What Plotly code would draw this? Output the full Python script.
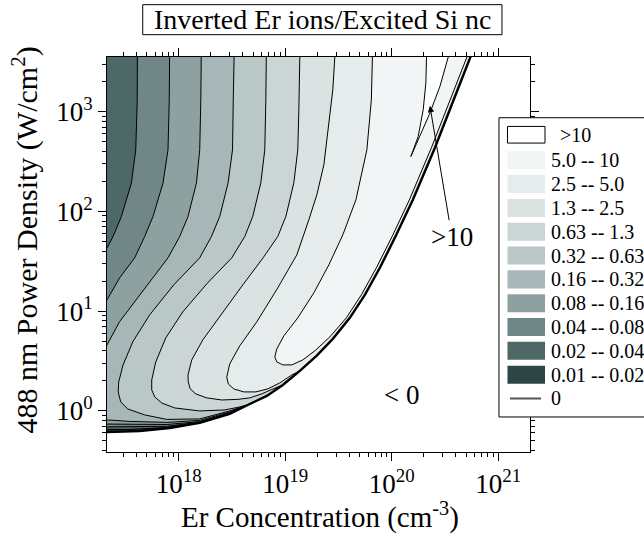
import numpy as np
import plotly.graph_objects as go

FONT = "Liberation Serif"

# ---------------- axis ranges (log10 units) ----------------
X_RANGE = [17.326, 21.299]   # Er concentration, cm^-3
Y_RANGE = [-0.414, 3.549]    # 488 nm power density, W/cm^2

x_tick_exp = [18, 19, 20, 21]
y_tick_exp = [0, 1, 2, 3]

# ---------------- contour lines (log10 x, log10 y) ----------------
# zero line (lower-right boundary, ratio = 0)
zero_lx = [17.258, 17.326, 17.633, 17.915, 18.197, 18.479, 18.667, 18.827, 18.977, 19.137, 19.294,
           19.447, 19.607, 19.748, 19.889, 20.039, 20.199, 20.406, 20.575, 20.735, 20.829]
zero_ly = [-0.213, -0.213, -0.203, -0.173, -0.122, -0.032, 0.068, 0.149, 0.259, 0.400, 0.550,
           0.721, 0.932, 1.163, 1.434, 1.755, 2.116, 2.639, 3.100, 3.542, 3.793]

# level 0.02 (lower branch only)
lo_002_x = [17.258, 17.326, 17.539, 17.887, 18.197, 18.479]
lo_002_y = [-0.188, -0.188, -0.188, -0.168, -0.119, -0.028]

# level 0.04
up_004_x = [17.612, 17.612, 17.610, 17.596, 17.555, 17.461, 17.383, 17.326, 17.258]
up_004_y = [3.723, 3.552, 3.120, 2.618, 2.284, 1.949, 1.748, 1.632, 1.554]
lo_004_x = [17.258, 17.326, 17.539, 17.887, 18.197, 18.479]
lo_004_y = [-0.163, -0.163, -0.163, -0.156, -0.115, -0.024]

# level 0.08
up_008_x = [17.915, 17.915, 17.911, 17.899, 17.852, 17.758, 17.680, 17.586, 17.445, 17.326, 17.258]
up_008_y = [3.723, 3.552, 3.120, 2.618, 2.284, 1.949, 1.748, 1.534, 1.333, 1.112, 1.012]
lo_008_x = [17.258, 17.326, 17.539, 17.887, 18.197, 18.479]
lo_008_y = [-0.133, -0.133, -0.138, -0.138, -0.109, -0.019]

# level 0.16
up_016_x = [18.213, 18.213, 18.207, 18.197, 18.166, 18.087, 18.009, 17.899, 17.633, 17.445, 17.326, 17.258]
up_016_y = [3.723, 3.552, 3.120, 2.618, 2.284, 1.949, 1.748, 1.534, 1.163, 0.895, 0.661, 0.530]
lo_016_x = [17.258, 17.326, 17.539, 17.887, 18.197, 18.479]
lo_016_y = [-0.092, -0.092, -0.107, -0.117, -0.097, -0.012]

# level 0.32
up_032_x = [18.520, 18.520, 18.512, 18.505, 18.463, 18.385, 18.307, 18.197, 17.953, 17.727, 17.568, 17.477, 17.436]
up_032_y = [3.723, 3.552, 3.120, 2.618, 2.284, 1.949, 1.748, 1.534, 1.263, 0.962, 0.691, 0.460, 0.289]
lo_032_x = [17.431, 17.455, 17.521, 17.680, 17.887, 18.197, 18.479]
lo_032_y = [0.189, 0.088, 0.018, -0.042, -0.087, -0.082, -0.002]

# level 0.63
up_063_x = [18.824, 18.824, 18.818, 18.808, 18.771, 18.695, 18.620, 18.498, 18.263, 18.038, 17.878, 17.784, 17.746]
up_063_y = [3.723, 3.552, 3.120, 2.618, 2.287, 1.949, 1.748, 1.534, 1.273, 0.992, 0.731, 0.490, 0.309]
lo_063_x = [17.746, 17.774, 17.840, 17.962, 18.197, 18.432, 18.573]
lo_063_y = [0.209, 0.139, 0.078, 0.028, -0.002, 0.008, 0.038]

# level 1.3
up_13_x = [19.137, 19.137, 19.128, 19.118, 19.081, 19.006, 18.930, 18.792, 18.602, 18.416, 18.226, 18.122, 18.087]
up_13_y = [3.723, 3.552, 3.020, 2.618, 2.287, 1.949, 1.748, 1.534, 1.263, 0.995, 0.711, 0.510, 0.359]
lo_13_x = [18.089, 18.108, 18.160, 18.263, 18.404, 18.555, 18.667, 18.780, 18.874]
lo_13_y = [0.289, 0.219, 0.169, 0.129, 0.108, 0.114, 0.129, 0.169, 0.214]

# level 2.5
up_25_x = [19.466, 19.466, 19.447, 19.419, 19.363, 19.297, 19.222, 19.109, 18.930, 18.733, 18.573, 18.479, 18.451]
up_25_y = [3.723, 3.552, 3.221, 2.950, 2.468, 2.167, 1.916, 1.564, 1.233, 0.892, 0.651, 0.470, 0.339]
lo_25_x = [18.465, 18.517, 18.611, 18.724, 18.836, 18.949, 19.062]
lo_25_y = [0.269, 0.219, 0.189, 0.189, 0.219, 0.279, 0.359]

# level 5.0
up_50_x = [19.823, 19.820, 19.809, 19.767, 19.664, 19.541, 19.410, 19.269, 19.118, 18.987, 18.921]
up_50_y = [3.723, 3.552, 3.120, 2.618, 2.116, 1.765, 1.464, 1.183, 0.932, 0.751, 0.620]
lo_50_x = [18.902, 18.921, 18.977, 19.062, 19.165, 19.288, 19.419, 19.574, 19.715, 19.856, 20.007,
           20.166, 20.373, 20.542, 20.702, 20.796]
lo_50_y = [0.540, 0.490, 0.460, 0.460, 0.510, 0.610, 0.741, 0.932, 1.163, 1.434, 1.755,
           2.116, 2.639, 3.100, 3.542, 3.793]

# level 10 (closed sliver near the top)
v10_x = [20.331, 20.328, 20.321, 20.296, 20.249, 20.180, 20.265, 20.359, 20.453, 20.531, 20.538]
v10_y = [3.723, 3.549, 3.288, 3.020, 2.752, 2.551, 2.752, 2.987, 3.254, 3.549, 3.723]

# ---------------- legend ----------------
legend_labels = ["&gt;10", "5.0 -- 10", "2.5 -- 5.0", "1.3 -- 2.5", "0.63 -- 1.3", "0.32 -- 0.63",
                 "0.16 -- 0.32", "0.08 -- 0.16", "0.04 -- 0.08", "0.02 -- 0.04", "0.01 -- 0.02", "0"]
legend_colors = ["#ffffff", "#f1f5f5", "#e6ecec", "#dae2e2", "#cbd5d5", "#bac7c7",
                 "#a7b6b6", "#8ea1a1", "#718787", "#4e6767", "#2c4545", None]

# fill colour of the region above each level
c = dict(zip(["10", "5.0", "2.5", "1.3", "0.63", "0.32", "0.16", "0.08", "0.04", "0.02", "0.01"],
             legend_colors[:11]))

corner_x = X_RANGE[0] - 0.1
corner_y = Y_RANGE[1] + 0.3


def tail_after(x_last):
    xs = [x for x in zero_lx if x > x_last]
    ys = [y for x, y in zip(zero_lx, zero_ly) if x > x_last]
    return xs, ys


regions = []
regions.append((zero_lx + [corner_x], zero_ly + [corner_y], c["0.01"]))
tx, ty = tail_after(lo_002_x[-1])
regions.append((lo_002_x + tx + [corner_x], lo_002_y + ty + [corner_y], c["0.02"]))
for ux, uy, lx, ly, key in [
    (up_004_x, up_004_y, lo_004_x, lo_004_y, "0.04"),
    (up_008_x, up_008_y, lo_008_x, lo_008_y, "0.08"),
    (up_016_x, up_016_y, lo_016_x, lo_016_y, "0.16"),
    (up_032_x, up_032_y, lo_032_x, lo_032_y, "0.32"),
    (up_063_x, up_063_y, lo_063_x, lo_063_y, "0.63"),
    (up_13_x, up_13_y, lo_13_x, lo_13_y, "1.3"),
    (up_25_x, up_25_y, lo_25_x, lo_25_y, "2.5"),
]:
    tx, ty = tail_after(lx[-1])
    regions.append((ux + lx + tx, uy + ly + ty, c[key]))
regions.append((up_50_x + lo_50_x, up_50_y + lo_50_y, c["5.0"]))
regions.append((v10_x, v10_y, c["10"]))

fig = go.Figure()
for xs, ys, col in regions:
    fig.add_trace(go.Scatter(
        x=10 ** np.array(xs), y=10 ** np.array(ys), mode="lines", fill="toself",
        fillcolor=col, line=dict(color="black", width=1), hoverinfo="skip", showlegend=False))

fig.add_trace(go.Scatter(
    x=10 ** np.array(zero_lx), y=10 ** np.array(zero_ly), mode="lines",
    line=dict(color="black", width=2.4), hoverinfo="skip", showlegend=False))

# ---------------- layout helpers (pixel -> paper) ----------------
L, R, T, B = 107.3, 530.0, 57.3, 452.0


def PX(px):
    return (px - L) / (R - L)


def PY(py):
    return (B - py) / (B - T)


shapes = []
annotations = []

# title box
shapes.append(dict(type="rect", xref="paper", yref="paper", x0=PX(143), x1=PX(502),
                   y0=PY(35), y1=PY(5), line=dict(color="black", width=1), fillcolor="white",
                   layer="above"))
annotations.append(dict(text="Inverted Er ions/Excited Si nc", xref="paper", yref="paper",
                        x=PX(322.5), y=PY(20), xanchor="center", yanchor="middle",
                        showarrow=False, font=dict(family=FONT, size=28, color="black")))

# axis titles
annotations.append(dict(text="Er Concentration (cm<sup>-3</sup>)", xref="paper", yref="paper",
                        x=PX(320), y=PY(515), xanchor="center", yanchor="middle",
                        showarrow=False, font=dict(family=FONT, size=29, color="black")))
annotations.append(dict(text="488 nm Power Density (W/cm<sup>2</sup>)", xref="paper", yref="paper",
                        x=PX(26), y=PY(240), xanchor="center", yanchor="middle", textangle=-90,
                        showarrow=False, font=dict(family=FONT, size=30, color="black")))

# in-plot labels
annotations.append(dict(text="&gt;10", xref="x", yref="y", x=20.359, y=3.060,
                        ax=22, ay=131, showarrow=True, arrowhead=2, arrowsize=1.3,
                        arrowwidth=1, arrowcolor="black", standoff=0,
                        font=dict(family=FONT, size=27, color="black")))
annotations.append(dict(text="&lt; 0", xref="x", yref="y", x=20.096, y=0.159,
                        showarrow=False, font=dict(family=FONT, size=27, color="black")))

# legend box
shapes.append(dict(type="rect", xref="paper", yref="paper", x0=PX(499), x1=PX(662),
                   y0=PY(417), y1=PY(118), line=dict(color="black", width=1), fillcolor="white",
                   layer="above"))
rows = [135] + [160.5 + 23.8 * k for k in range(11)]
for i, (lab, col) in enumerate(zip(legend_labels, legend_colors)):
    yc = rows[i]
    if col is None:
        shapes.append(dict(type="line", xref="paper", yref="paper", x0=PX(510), x1=PX(541),
                           y0=PY(yc), y1=PY(yc), line=dict(color="#555555", width=2),
                           layer="above"))
        tx = 548.5
    elif i == 0:
        shapes.append(dict(type="rect", xref="paper", yref="paper", x0=PX(507.5), x1=PX(545),
                           y0=PY(yc + 8.3), y1=PY(yc - 8.3), fillcolor=col,
                           line=dict(color="black", width=1), layer="above"))
        tx = 558
    else:
        shapes.append(dict(type="rect", xref="paper", yref="paper", x0=PX(507.5), x1=PX(545),
                           y0=PY(yc + 9), y1=PY(yc - 9), fillcolor=col,
                           line=dict(width=0), layer="above"))
        tx = 548.5
    annotations.append(dict(text=lab, xref="paper", yref="paper", x=PX(tx), y=PY(yc),
                            xanchor="left", yanchor="middle", showarrow=False,
                            font=dict(family=FONT, size=20, color="black")))


def minor_vals(lo, hi):
    return [m * 10.0 ** e for e in range(lo, hi) for m in range(2, 10)]


def axis(exps, minors):
    return dict(type="log", tickmode="array",
                tickvals=[10.0 ** e for e in exps],
                ticktext=["10<sup>%d</sup>" % e for e in exps],
                ticks="outside", ticklen=8, tickwidth=1, tickcolor="black",
                showline=True, linecolor="black", linewidth=1,
                mirror="ticks", showgrid=False, zeroline=False,
                tickfont=dict(family=FONT, size=27, color="black"),
                minor=dict(tickmode="array", tickvals=minors, ticks="outside", ticklen=4,
                           tickwidth=1, tickcolor="black", showgrid=False))


fig.update_layout(
    width=644, height=537,
    margin=dict(l=107, r=114, t=57, b=85),
    paper_bgcolor="white", plot_bgcolor="white",
    xaxis=dict(range=X_RANGE, **axis(x_tick_exp, minor_vals(17, 22))),
    yaxis=dict(range=Y_RANGE, **axis(y_tick_exp, minor_vals(-1, 4))),
    shapes=shapes, annotations=annotations,
    showlegend=False,
)

fig.write_html("out.html")
